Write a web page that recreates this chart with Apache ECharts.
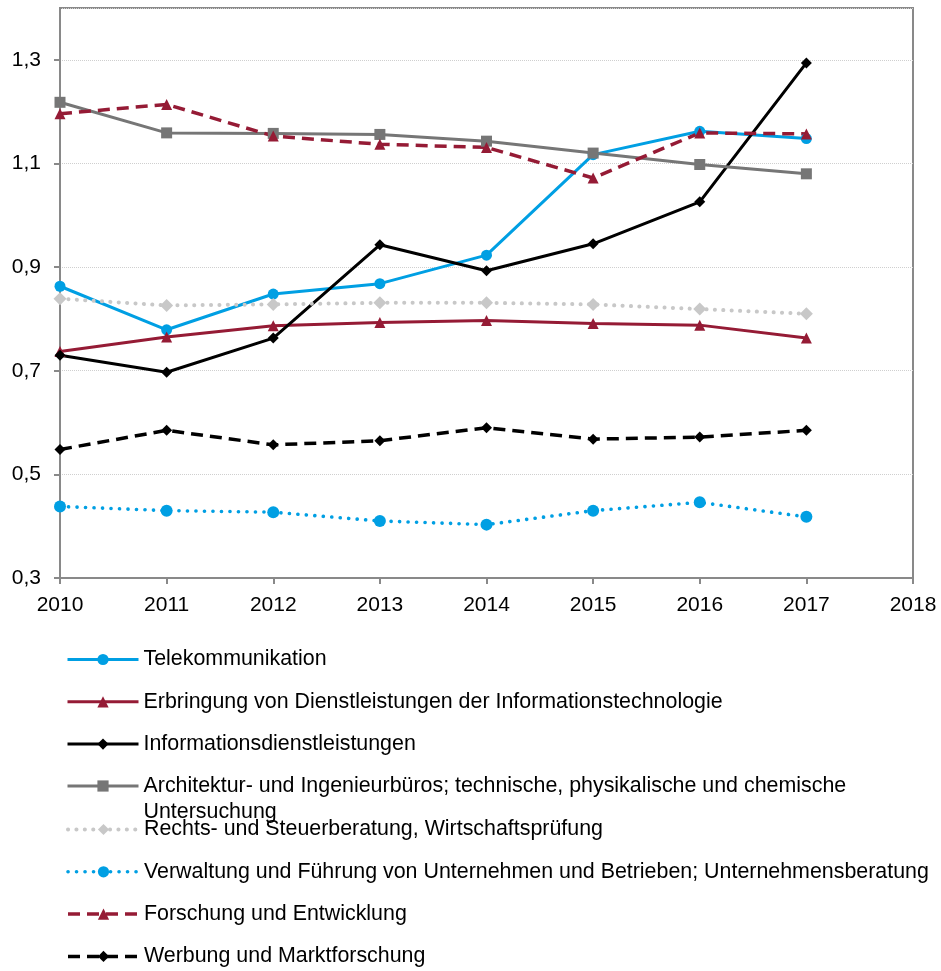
<!DOCTYPE html>
<html>
<head>
<meta charset="utf-8">
<title>Entwicklung nach Branchen</title>
<script src="https://cdn.jsdelivr.net/npm/echarts@6/dist/echarts.min.js"></script>
<style>
  html, body { margin: 0; padding: 0; background: #fff; }
  #chart_wrap { width: 941px; height: 971px; }
</style>
</head>
<body>
<div id="chart_wrap"></div>
<script>
var years = [2010, 2011, 2012, 2013, 2014, 2015, 2016, 2017];

var telekom     = [0.863, 0.779, 0.848, 0.868, 0.923, 1.117, 1.162, 1.148];
var erbringung  = [0.737, 0.765, 0.787, 0.793, 0.797, 0.791, 0.788, 0.763];
var infoDienst  = [0.730, 0.697, 0.763, 0.943, 0.893, 0.945, 1.026, 1.294];
var architektur = [1.218, 1.159, 1.158, 1.156, 1.143, 1.120, 1.098, 1.080];
var rechts      = [0.839, 0.826, 0.828, 0.831, 0.831, 0.828, 0.819, 0.810];
var verwaltung  = [0.438, 0.430, 0.427, 0.410, 0.403, 0.430, 0.446, 0.418];
var forschung   = [1.196, 1.214, 1.153, 1.137, 1.131, 1.072, 1.159, 1.157];
var werbung     = [0.548, 0.585, 0.557, 0.565, 0.590, 0.568, 0.572, 0.585];

var seriesNames = [
  'Telekommunikation',
  'Erbringung von Dienstleistungen der Informationstechnologie',
  'Informationsdienstleistungen',
  'Architektur- und Ingenieurbüros; technische, physikalische und chemische Untersuchung',
  'Rechts- und Steuerberatung, Wirtschaftsprüfung',
  'Verwaltung und Führung von Unternehmen und Betrieben; Unternehmensberatung',
  'Forschung und Entwicklung',
  'Werbung und Marktforschung'
];

// y axis runs 0,3 .. 1,4 with labels every 0,2 starting at 0,3
var yBase = 0.3;
var yTop = 1.4;

var fontFam = '"Liberation Sans", Arial, sans-serif';
var axisGray = '#898989';

function pts(vals) {
  return vals.map(function (v, i) { return [years[i], +(v - yBase).toFixed(4)]; });
}

function mkSeries(idx, vals, color, symbol, size, lineType, width, cap) {
  return {
    name: seriesNames[idx],
    type: 'line',
    data: pts(vals),
    symbol: symbol,
    symbolSize: size,
    showAllSymbol: true,
    animation: false,
    itemStyle: { color: color },
    lineStyle: { color: color, width: width, type: lineType, cap: cap || 'butt' }
  };
}

// excel style legend: one column, the long label wraps downward without moving the rest
function mkLegend(names, top, lineH) {
  return {
    orient: 'vertical',
    left: 66,
    top: top,
    height: 400,
    padding: 0,
    itemWidth: 71,
    itemHeight: 14,
    itemGap: 21.3,
    lineStyle: { width: 'inherit' },
    textStyle: { color: '#000', fontSize: 21.4, fontFamily: fontFam, lineHeight: lineH || 21 },
    data: names,
    formatter: function (name) {
      if (name === seriesNames[3]) {
        // empty first line keeps the first text line level with the icon
        return '\nArchitektur- und Ingenieurbüros; technische, physikalische und chemische\nUntersuchung';
      }
      return name;
    }
  };
}

var chart = echarts.init(document.getElementById('chart_wrap'));

chart.setOption({
  backgroundColor: '#fff',
  animation: false,
  grid: {
    left: 60,
    right: 28,
    top: 8,
    bottom: 393,
    show: true,
    borderColor: axisGray,
    borderWidth: 2
  },
  xAxis: {
    type: 'value',
    min: 2010,
    max: 2018,
    interval: 1,
    axisLine: { show: true, lineStyle: { color: axisGray, width: 2 } },
    axisTick: { show: true, length: 6, lineStyle: { color: axisGray, width: 2 } },
    splitLine: { show: false },
    axisLabel: {
      color: '#000',
      fontSize: 21,
      fontFamily: fontFam,
      margin: 17,
      formatter: function (v) { return String(v); }
    }
  },
  yAxis: {
    type: 'value',
    min: 0,
    max: +(yTop - yBase).toFixed(1),
    interval: 0.2,
    axisLine: { show: true, lineStyle: { color: axisGray, width: 2 } },
    axisTick: { show: true, length: 6, lineStyle: { color: axisGray, width: 2 } },
    splitLine: { show: true, lineStyle: { color: '#cfcfcf', width: 1, type: 'dotted' } },
    axisLabel: {
      color: '#000',
      fontSize: 21,
      fontFamily: fontFam,
      margin: 19,
      showMaxLabel: false,
      formatter: function (v) { return (v + yBase).toFixed(1).replace('.', ','); }
    }
  },
  legend: [
    mkLegend(seriesNames.slice(0, 3), 649),
    mkLegend(seriesNames.slice(3, 4), 747, 26),
    mkLegend(seriesNames.slice(4), 819)
  ],
  series: [
    mkSeries(0, telekom, '#009fe3', 'circle', 11, 'solid', 3),
    mkSeries(1, erbringung, '#951b35', 'triangle', 11, 'solid', 3),
    mkSeries(2, infoDienst, '#000000', 'diamond', 11, 'solid', 3),
    mkSeries(3, architektur, '#767676', 'rect', 11, 'solid', 3),
    mkSeries(4, rechts, '#c8c8c8', 'diamond', 13, [0.1, 8.3], 4, 'round'),
    mkSeries(5, verwaltung, '#009fe3', 'circle', 12, [0.1, 8.4], 3.6, 'round'),
    mkSeries(6, forschung, '#951b35', 'triangle', 11, [12, 7], 3.5),
    mkSeries(7, werbung, '#000000', 'diamond', 11, [12, 7], 3.5)
  ]
});
</script>
</body>
</html>
